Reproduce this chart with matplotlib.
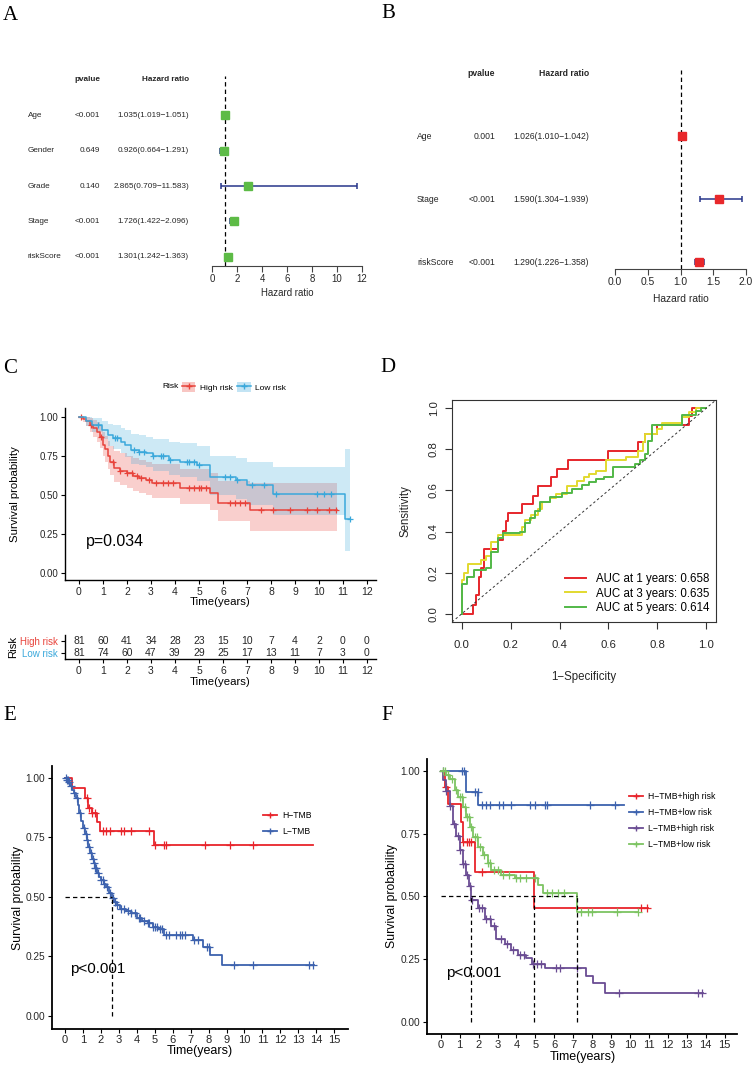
import numpy as np
import matplotlib

matplotlib.use("Agg")
import matplotlib.pyplot as plt
from matplotlib.lines import Line2D
from matplotlib.patches import Patch
from matplotlib.transforms import blended_transform_factory

W, H = 756, 1070

# ---- A: univariate cox
uni_vars = ["Age", "Gender", "Grade", "Stage", "riskScore"]
uni_p = ["<0.001", "0.649", "0.140", "<0.001", "<0.001"]
uni_hr = [1.035, 0.926, 2.865, 1.726, 1.301]
uni_lo = [1.019, 0.664, 0.709, 1.422, 1.242]
uni_hi = [1.051, 1.291, 11.583, 2.096, 1.363]

# ---- B: multivariate cox
multi_vars = ["Age", "Stage", "riskScore"]
multi_p = ["0.001", "<0.001", "<0.001"]
multi_hr = [1.026, 1.590, 1.290]
multi_lo = [1.010, 1.304, 1.226]
multi_hi = [1.042, 1.939, 1.358]

# ---- C: KM by risk group
high_t = [0, 0.15, 0.3, 0.45, 0.6, 0.75, 0.88, 1.0, 1.1, 1.2, 1.3, 1.45, 1.7, 2.0, 2.25, 2.5, 2.8, 3.05, 4.2, 5.45, 5.8, 7.13]
high_s = [1, 0.988, 0.975, 0.95, 0.925, 0.90, 0.87, 0.82, 0.79, 0.75, 0.71, 0.67, 0.655, 0.637, 0.62, 0.605, 0.594, 0.577, 0.541, 0.509, 0.444, 0.402]
high_up = [1, 1, 1, 0.995, 0.98, 0.965, 0.94, 0.90, 0.875, 0.845, 0.81, 0.78, 0.765, 0.75, 0.735, 0.72, 0.71, 0.695, 0.665, 0.64, 0.59, 0.575]
high_low = [1, 0.965, 0.94, 0.905, 0.87, 0.84, 0.80, 0.745, 0.71, 0.665, 0.625, 0.58, 0.565, 0.545, 0.525, 0.51, 0.495, 0.48, 0.44, 0.405, 0.33, 0.27]
high_end = 10.74
high_cens = [0.1, 0.5, 0.9, 1.4, 1.7, 2.0, 2.2, 2.4, 2.6, 2.9, 3.2, 3.5, 3.7, 3.9, 4.6, 4.8, 5.0, 5.1, 5.3,
             6.3, 6.5, 6.7, 6.9, 7.6, 8.1, 8.8, 9.5, 9.9, 10.4, 10.7]

low_t = [0, 0.3, 0.55, 0.95, 1.2, 1.4, 1.75, 1.9, 2.15, 2.5, 2.8, 3.1, 3.75, 4.2, 4.9, 5.45, 6.55, 7.0, 8.1, 11.08]
low_s = [1, 0.975, 0.947, 0.915, 0.88, 0.861, 0.84, 0.82, 0.786, 0.776, 0.765, 0.748, 0.722, 0.712, 0.69, 0.615, 0.594, 0.562, 0.504, 0.344]
low_up = [1, 1, 0.995, 0.975, 0.955, 0.945, 0.93, 0.915, 0.89, 0.88, 0.87, 0.86, 0.84, 0.83, 0.815, 0.75, 0.735, 0.71, 0.68, 0.79]
low_low = [1, 0.94, 0.9, 0.855, 0.815, 0.79, 0.765, 0.74, 0.70, 0.69, 0.675, 0.655, 0.625, 0.615, 0.59, 0.50, 0.475, 0.435, 0.37, 0.14]
low_end = 11.3
low_cens = [0.8, 1.5, 1.6, 2.3, 2.5, 2.7, 3.1, 3.4, 3.5, 3.8, 4.5, 4.6, 4.8, 5.0, 6.1, 6.3, 6.6, 7.2, 7.7, 8.2,
            9.9, 10.2, 10.5, 11.3]

risk_times = list(range(13))
risk_high_n = [81, 60, 41, 34, 28, 23, 15, 10, 7, 4, 2, 0, 0]
risk_low_n = [81, 74, 60, 47, 39, 29, 25, 17, 13, 11, 7, 3, 0]

# ---- D: time ROC, corners (fpr, tpr) after each rise
roc1_fpr = [0, 0.046, 0.06, 0.07, 0.08, 0.09, 0.15, 0.17, 0.18, 0.19, 0.245, 0.29, 0.31, 0.365, 0.39, 0.435,
            0.6, 0.72, 0.75, 0.8, 0.93, 0.94, 1.0]
roc1_tpr = [0, 0.045, 0.09, 0.18, 0.225, 0.315, 0.36, 0.405, 0.45, 0.49, 0.535, 0.575, 0.62, 0.665, 0.705, 0.75,
            0.79, 0.835, 0.875, 0.918, 0.96, 1.0, 1.0]
roc3_fpr = [0, 0, 0.01, 0.025, 0.08, 0.1, 0.12, 0.15, 0.245, 0.26, 0.285, 0.31, 0.33, 0.36, 0.385, 0.43, 0.47,
            0.5, 0.52, 0.55, 0.59, 0.67, 0.72, 0.74, 0.75, 0.8, 0.82, 0.9, 0.93, 0.96, 1.0]
roc3_tpr = [0, 0.165, 0.2, 0.24, 0.26, 0.28, 0.35, 0.385, 0.42, 0.455, 0.48, 0.51, 0.545, 0.565, 0.585, 0.62,
            0.645, 0.665, 0.68, 0.695, 0.75, 0.765, 0.79, 0.835, 0.875, 0.9, 0.93, 0.955, 0.98, 1.0, 1.0]
roc5_fpr = [0, 0, 0.02, 0.05, 0.1, 0.12, 0.15, 0.17, 0.24, 0.26, 0.28, 0.3, 0.32, 0.36, 0.41, 0.45, 0.49, 0.52,
            0.55, 0.58, 0.62, 0.71, 0.73, 0.75, 0.76, 0.78, 0.9, 0.96, 0.98, 1.0]
roc5_tpr = [0, 0.145, 0.18, 0.215, 0.225, 0.3, 0.37, 0.395, 0.40, 0.44, 0.465, 0.5, 0.545, 0.57, 0.59, 0.605,
            0.625, 0.64, 0.655, 0.665, 0.715, 0.73, 0.75, 0.775, 0.84, 0.92, 0.965, 0.985, 1.0, 1.0]
roc_labels = ["AUC at 1 years: 0.658", "AUC at 3 years: 0.635", "AUC at 5 years: 0.614"]

# ---- E: KM by TMB
htmb_t = [0, 0.37, 1.11, 1.3, 1.48, 1.76, 1.95, 4.95]
htmb_s = [1, 0.958, 0.913, 0.871, 0.85, 0.815, 0.778, 0.717]
htmb_end = 13.8
htmb_cens = [1.2, 1.35, 1.5, 1.65, 2.1, 2.3, 2.5, 3.1, 3.3, 3.7, 4.7, 5.0, 5.5, 5.6, 7.8, 9.2, 10.5]
ltmb_t = [0, 0.1, 0.2, 0.3, 0.4, 0.5, 0.6, 0.7, 0.8, 0.9, 1.0, 1.1, 1.2, 1.3, 1.4, 1.5, 1.6, 1.7, 1.8, 1.9, 2.0,
          2.15, 2.3, 2.45, 2.6, 2.75, 2.9, 3.05, 3.4, 3.7, 4.0, 4.3, 4.6, 4.9, 5.2, 5.5, 7.15, 7.7, 8.1, 8.72]
ltmb_s = [1, 0.99, 0.98, 0.965, 0.95, 0.935, 0.915, 0.885, 0.85, 0.82, 0.79, 0.765, 0.74, 0.71, 0.685, 0.66,
          0.64, 0.62, 0.60, 0.585, 0.57, 0.555, 0.54, 0.515, 0.495, 0.48, 0.465, 0.45, 0.44, 0.43, 0.41, 0.40,
          0.39, 0.375, 0.365, 0.34, 0.32, 0.29, 0.256, 0.214]
ltmb_end = 13.9
ltmb_cens = [0.05, 0.1, 0.15, 0.25, 0.35, 0.5, 0.65, 0.85, 1.05, 1.15, 1.25, 1.35, 1.45, 1.55, 1.6, 1.7, 1.75,
             1.85, 2.0, 2.1, 2.2, 2.35, 2.5, 2.7, 2.8, 2.9, 3.1, 3.3, 3.5, 3.7, 3.9, 4.1, 4.2, 4.4, 4.6, 4.7,
             4.9, 5.0, 5.1, 5.3, 5.4, 5.6, 5.8, 6.2, 6.4, 6.5, 6.7, 7.2, 7.4, 7.9, 8.0, 9.4, 10.5, 13.6, 13.8]

# ---- F: KM by TMB + risk
hh_t = [0, 0.21, 0.39, 1.06, 1.18, 1.8, 4.93]
hh_s = [1, 0.937, 0.867, 0.798, 0.718, 0.598, 0.452]
hh_end = 10.95
hh_cens = [0.3, 1.2, 1.4, 1.5, 1.6, 2.2, 10.6, 10.9]
hl_t = [0, 1.36, 1.97]
hl_s = [1, 0.917, 0.864]
hl_end = 9.68
hl_cens = [1.1, 1.25, 1.8, 1.95, 2.2, 2.4, 2.6, 3.1, 3.3, 3.7, 4.7, 5.0, 5.5, 5.6, 7.9, 9.2]
lh_t = [0, 0.12, 0.3, 0.48, 0.65, 0.83, 1.0, 1.18, 1.35, 1.5, 1.62, 1.97, 2.32, 2.68, 2.94, 3.38, 3.73, 4.1,
        4.5, 4.8, 5.5, 7.7, 8.05, 8.66]
lh_s = [1, 0.964, 0.92, 0.86, 0.79, 0.74, 0.685, 0.63, 0.585, 0.54, 0.485, 0.452, 0.41, 0.38, 0.33, 0.31,
        0.285, 0.266, 0.253, 0.23, 0.213, 0.182, 0.153, 0.113]
lh_end = 13.86
lh_cens = [0.1, 0.3, 0.5, 0.7, 0.9, 1.0, 1.2, 1.3, 1.4, 1.55, 1.65, 2.0, 2.2, 2.4, 2.6, 2.8, 3.2, 3.5, 3.8,
           4.2, 4.4, 4.9, 5.1, 5.3, 6.1, 6.3, 7.2, 9.4, 13.6, 13.8]
ll_t = [0, 0.3, 0.5, 0.74, 0.92, 1.18, 1.36, 1.53, 1.7, 1.97, 2.24, 2.5, 2.68, 3.2, 3.9, 5.14, 5.4, 7.22]
ll_s = [1, 0.984, 0.97, 0.924, 0.898, 0.858, 0.818, 0.778, 0.738, 0.698, 0.665, 0.632, 0.605, 0.585, 0.572,
        0.545, 0.512, 0.439]
ll_end = 10.4
ll_cens = [0.1, 0.2, 0.4, 0.6, 0.8, 1.0, 1.1, 1.3, 1.4, 1.5, 1.6, 1.8, 1.9, 2.1, 2.3, 2.5, 2.6, 2.8, 3.0, 3.3,
           3.6, 4.0, 4.2, 4.5, 5.0, 5.6, 5.9, 6.2, 6.5, 7.4, 7.8, 8.0, 9.3, 10.4]
f_labels = ["H\u2212TMB+high risk", "H\u2212TMB+low risk", "L\u2212TMB+high risk", "L\u2212TMB+low risk"]

TEXT = "#262626"


def px_rect(left, top, right, bottom):
    return [left / W, 1 - bottom / H, (right - left) / W, (bottom - top) / H]


def gg_axes(ax, size):
    for side in ("top", "right"):
        ax.spines[side].set_visible(False)
    for side in ("left", "bottom"):
        ax.spines[side].set_linewidth(1.0)
        ax.spines[side].set_color("black")
    ax.tick_params(length=3, width=0.8, labelsize=size, labelcolor=TEXT, pad=2)


def draw_forest(fig, box, xlim, ylim, xticks, names, pvals, hr, lo, hi, color, cols, fs, tick_fs):
    ax = fig.add_axes(px_rect(*box))
    hr, lo, hi = np.array(hr), np.array(lo), np.array(hi)
    n = len(names)
    ypos = np.arange(n, 0, -1)
    ax.axvline(1, color="black", ls=(0, (3.5, 2.5)), lw=0.9)
    ax.errorbar(hr, ypos, xerr=[hr - lo, hi - hr], fmt="none", ecolor="#27358a",
                elinewidth=1.1, capsize=2.2, capthick=1.1)
    ax.plot(hr, ypos, "s", color=color, ms=5.3, zorder=3)
    tr = blended_transform_factory(fig.transFigure, ax.transData)
    name_x, p_x, hr_x = cols
    ax.text(p_x / W, n + 1, "pvalue", ha="right", va="center", fontsize=fs, fontweight="bold",
            transform=tr, color=TEXT)
    ax.text(hr_x / W, n + 1, "Hazard ratio", ha="right", va="center", fontsize=fs, fontweight="bold",
            transform=tr, color=TEXT)
    for y, nm, p, h, l, u in zip(ypos, names, pvals, hr, lo, hi):
        ax.text(name_x / W, y, nm, ha="left", va="center", fontsize=fs, transform=tr, color=TEXT)
        ax.text(p_x / W, y, p, ha="right", va="center", fontsize=fs, transform=tr, color=TEXT)
        ax.text(hr_x / W, y, f"{h:.3f}({l:.3f}\u2212{u:.3f})", ha="right", va="center",
                fontsize=fs, transform=tr, color=TEXT)
    ax.set_xlim(*xlim)
    ax.set_ylim(*ylim)
    ax.set_yticks([])
    for side in ("top", "right", "left"):
        ax.spines[side].set_visible(False)
    ax.spines["bottom"].set_bounds(xticks[0], xticks[-1])
    ax.spines["bottom"].set_color("#444444")
    ax.set_xticks(xticks)
    ax.tick_params(axis="x", length=4, width=0.8, color="#444444", labelsize=tick_fs, labelcolor=TEXT, pad=2)
    ax.set_xlabel("Hazard ratio", fontsize=tick_fs, color=TEXT)
    return ax


def km_line(ax, times, surv, end, color, cens, lw=1.1, ms=5):
    t = np.append(times, end)
    s = np.append(surv, surv[-1])
    ax.step(t, s, where="post", color=color, lw=lw)
    idx = np.searchsorted(times, cens, side="right") - 1
    ax.plot(cens, np.asarray(surv)[idx], ls="none", marker="+", color=color, ms=ms, mew=0.9)


def km_band(ax, times, up, low, end, color):
    t = np.append(times, end)
    u = np.append(up, up[-1])
    lo = np.append(low, low[-1])
    ax.fill_between(t, lo, u, step="post", color=color, alpha=0.25, lw=0)


def median_time(times, surv):
    surv = np.asarray(surv)
    if surv.min() > 0.5:
        return None
    return times[int(np.argmax(surv <= 0.5))]


def panel_c(fig):
    red, blue = "#E8433B", "#3AA8DB"
    ax = fig.add_axes(px_rect(65, 408, 376, 580))
    km_band(ax, high_t, high_up, high_low, high_end, red)
    km_band(ax, low_t, low_up, low_low, low_end, blue)
    km_line(ax, high_t, high_s, high_end, red, high_cens)
    km_line(ax, low_t, low_s, low_end, blue, low_cens)
    ax.set_xlim(-0.58, 12.375)
    ax.set_ylim(-0.047, 1.056)
    ax.set_xticks(risk_times)
    ax.set_yticks([0, 0.25, 0.5, 0.75, 1.0])
    ax.set_yticklabels(["0.00", "0.25", "0.50", "0.75", "1.00"])
    gg_axes(ax, 7)
    ax.tick_params(axis="x", labelsize=7.5)
    ax.set_xlabel("Time(years)", fontsize=8.2, color="black")
    ax.xaxis.set_label_coords(0.5, (580 - 602) / 172)
    ax.xaxis.label.set_va("center")
    ax.set_ylabel("Survival probability", fontsize=8.2, color="black")
    ax.yaxis.set_label_coords((15 - 65) / 311, 0.5)
    ax.yaxis.label.set_va("center")
    ax.text(0.29, 0.197, "p=0.034", fontsize=11.4, ha="left", va="center", color="black")

    handles = [(Patch(facecolor=red, alpha=0.3, lw=0), Line2D([], [], color=red, marker="+", ms=5, lw=1.1)),
               (Patch(facecolor=blue, alpha=0.3, lw=0), Line2D([], [], color=blue, marker="+", ms=5, lw=1.1))]
    fig.text(162 / W, 1 - 387 / H, "Risk", fontsize=6, va="center", ha="left", color="black")
    fig.legend(handles, ["High risk", "Low risk"], loc="center left", bbox_to_anchor=(182 / W, 1 - 387 / H),
               ncol=2, frameon=False, fontsize=6, handlelength=1.6, handleheight=1.4, handletextpad=0.5,
               columnspacing=0.6, borderpad=0, borderaxespad=0)

    axt = fig.add_axes(px_rect(65, 635, 376, 659))
    for t, nh, nl in zip(risk_times, risk_high_n, risk_low_n):
        axt.text(t, 2, str(nh), ha="center", va="center", fontsize=7.5, color=TEXT)
        axt.text(t, 1, str(nl), ha="center", va="center", fontsize=7.5, color=TEXT)
    axt.set_xlim(-0.58, 12.375)
    axt.set_ylim(0.5, 2.5)
    axt.set_xticks(risk_times)
    axt.set_yticks([2, 1])
    axt.set_yticklabels(["High risk", "Low risk"])
    gg_axes(axt, 7.5)
    axt.tick_params(axis="y", labelsize=7)
    for lab, c in zip(axt.get_yticklabels(), [red, blue]):
        lab.set_color(c)
    axt.set_xlabel("Time(years)", fontsize=8.2, color="black")
    axt.xaxis.set_label_coords(0.5, (659 - 682) / 24)
    axt.xaxis.label.set_va("center")
    axt.set_ylabel("Risk", fontsize=8.2, color="black")
    axt.yaxis.set_label_coords((13 - 65) / 311, 0.5)
    axt.yaxis.label.set_va("center")


def panel_d(fig):
    ax = fig.add_axes(px_rect(452, 400, 716, 622))
    colors = ["#E6262B", "#E2D92F", "#52B848"]
    rocs = [(roc1_fpr, roc1_tpr), (roc3_fpr, roc3_tpr), (roc5_fpr, roc5_tpr)]
    for (fpr, tpr), c, lab in zip(rocs, colors, roc_labels):
        ax.plot(fpr, tpr, drawstyle="steps-post", color=c, lw=1.4, label=lab)
    ax.axline((0, 0), (1, 1), color="#333333", ls=(0, (2.5, 2.5)), lw=0.7)
    ax.set_xlim(-0.04, 1.04)
    ax.set_ylim(-0.04, 1.04)
    ticks = [0, 0.2, 0.4, 0.6, 0.8, 1.0]
    ax.set_xticks(ticks)
    ax.set_yticks(ticks)
    ax.set_xticklabels([f"{v:.1f}" for v in ticks])
    ax.set_yticklabels([f"{v:.1f}" for v in ticks], rotation=90, va="center")
    for sp in ax.spines.values():
        sp.set_color("#333333")
        sp.set_linewidth(0.8)
    ax.tick_params(length=5, width=0.8, color="#333333", labelsize=8.2, labelcolor=TEXT)
    ax.tick_params(axis="x", pad=8)
    ax.tick_params(axis="y", pad=4.5)
    ax.set_xlabel("1\u2212Specificity", fontsize=8.3, color=TEXT)
    ax.xaxis.set_label_coords(0.5, (622 - 677) / 222)
    ax.xaxis.label.set_va("center")
    ax.set_ylabel("Sensitivity", fontsize=8.3, color=TEXT)
    ax.yaxis.set_label_coords((405 - 452) / 264, 0.5)
    ax.yaxis.label.set_va("center")
    ax.legend(loc="center left", bbox_to_anchor=(565 / W, 1 - 593.5 / H), bbox_transform=fig.transFigure,
              frameon=False, fontsize=8.3, handlelength=1.8, handletextpad=0.85, labelspacing=0.2,
              borderpad=0, borderaxespad=0)


def km_panel(fig, box, xlim, ylim, groups, labels, colors, legend_xy, p_xy):
    ax = fig.add_axes(px_rect(*box))
    meds = []
    for (t, s, end, cens), c in zip(groups, colors):
        km_line(ax, t, s, end, c, cens, lw=1.3, ms=5.5)
        m = median_time(t, s)
        if m is not None:
            meds.append(m)
    ax.hlines(0.5, 0, max(meds), color="black", ls=(0, (3.5, 2.5)), lw=0.9)
    ax.vlines(meds, 0, 0.5, color="black", ls=(0, (3.5, 2.5)), lw=0.9)
    ax.set_xlim(*xlim)
    ax.set_ylim(*ylim)
    ax.set_xticks(range(16))
    ax.set_yticks([0, 0.25, 0.5, 0.75, 1.0])
    ax.set_yticklabels(["0.00", "0.25", "0.50", "0.75", "1.00"])
    gg_axes(ax, 7.3)
    ax.tick_params(axis="x", labelsize=8, pad=1)
    for side in ("left", "bottom"):
        ax.spines[side].set_linewidth(1.3)
    ax.set_xlabel("Time(years)", fontsize=9, color="black")
    ax.xaxis.set_label_coords(0.5, -0.084)
    ax.xaxis.label.set_va("center")
    ax.set_ylabel("Survival probability", fontsize=8.8, color="black")
    ax.yaxis.set_label_coords(-0.115, 0.5)
    ax.yaxis.label.set_va("center")
    ax.text(p_xy[0], p_xy[1], "p<0.001", fontsize=11, ha="left", va="center", color="black")
    handles = [Line2D([], [], color=c, lw=1.3, marker="+", ms=5) for c in colors]
    ax.legend(handles, labels, loc="upper left", bbox_to_anchor=legend_xy, bbox_transform=fig.transFigure,
              frameon=False, fontsize=6.2, handlelength=1.6, handletextpad=0.6, labelspacing=0.8,
              borderpad=0, borderaxespad=0)
    return ax


def main():
    plt.rcParams["font.family"] = ["Liberation Sans", "DejaVu Sans"]
    fig = plt.figure(figsize=(W / 100, H / 100), dpi=100)

    ax_a = draw_forest(fig, (212, 76, 362, 266), (0, 12), (0.746, 6.1), list(range(0, 13, 2)),
                       uni_vars, uni_p, uni_hr, uni_lo, uni_hi, "#5DBB46", (28, 100, 189), 5.9, 6.9)
    ax_a.xaxis.set_label_coords(0.5, (266 - 293) / 190)
    ax_a.xaxis.label.set_va("center")
    ax_b = draw_forest(fig, (615, 70, 746, 269), (0, 2), (0.889, 4.05), [0, 0.5, 1.0, 1.5, 2.0],
                       multi_vars, multi_p, multi_hr, multi_lo, multi_hi, "#E8282B", (417, 495, 589), 6.2, 7.4)
    ax_b.set_xticklabels(["0.0", "0.5", "1.0", "1.5", "2.0"])
    ax_b.xaxis.set_label_coords(0.5, (269 - 299) / 199)
    ax_b.xaxis.label.set_va("center")

    panel_c(fig)
    panel_d(fig)

    km_panel(fig, (51.7, 766, 347.7, 1029), (-0.74, 15.75), (-0.055, 1.049),
             [(htmb_t, htmb_s, htmb_end, htmb_cens), (ltmb_t, ltmb_s, ltmb_end, ltmb_cens)],
             ["H\u2212TMB", "L\u2212TMB"], ["#E8242B", "#3D62AE"], (263 / W, 1 - 811 / H), (0.28, 0.197))
    km_panel(fig, (427.3, 759, 737.3, 1034), (-0.71, 15.67), (-0.049, 1.048),
             [(hh_t, hh_s, hh_end, hh_cens), (hl_t, hl_s, hl_end, hl_cens),
              (lh_t, lh_s, lh_end, lh_cens), (ll_t, ll_s, ll_end, ll_cens)],
             f_labels, ["#E8242B", "#3D62AE", "#6A4C93", "#7DC462"], (629 / W, 1 - 792 / H), (0.28, 0.195))

    for lab, x, y in [("A", 3, 20), ("B", 381, 18), ("C", 3, 373), ("D", 380, 372), ("E", 3, 720), ("F", 381, 720)]:
        fig.text(x / W, 1 - y / H, lab, fontsize=15, family="Liberation Serif", va="baseline", ha="left")

    fig.savefig("out.png", dpi=100)


if __name__ == "__main__":
    main()
